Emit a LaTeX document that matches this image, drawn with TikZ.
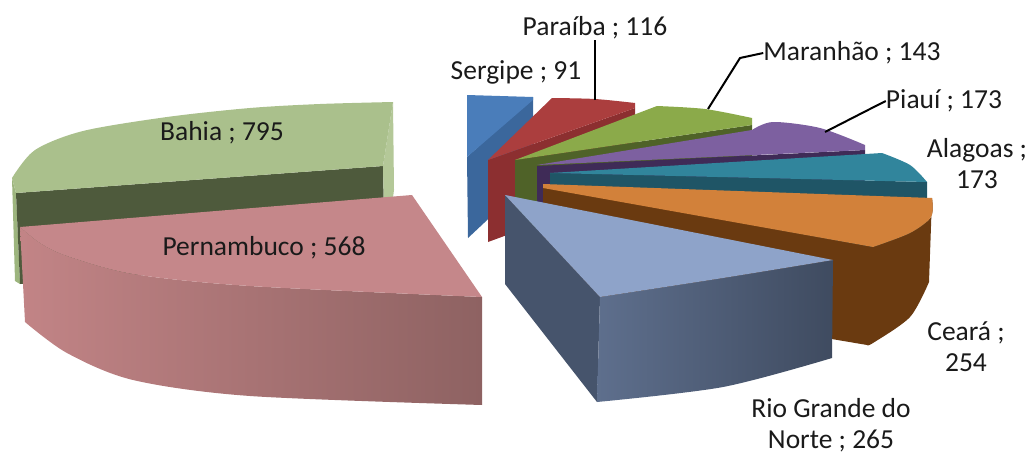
\documentclass[tikz,border=0pt]{standalone}
\usepackage{fontspec}
\setmainfont{Carlito}
\definecolor{bahtop}{HTML}{AAC08C}
\definecolor{bahside}{HTML}{9DB57E}
\definecolor{bahface}{HTML}{4E5A3C}
\definecolor{bahzero}{HTML}{B4C898}
\definecolor{pertop}{HTML}{C5878A}
\definecolor{perl}{HTML}{C28486}
\definecolor{perr}{HTML}{8E6262}
\definecolor{sertop}{HTML}{4A7DBA}
\definecolor{serface}{HTML}{3B679C}
\definecolor{partop}{HTML}{AB3E3E}
\definecolor{parface}{HTML}{8C2F30}
\definecolor{martop}{HTML}{8BAA4A}
\definecolor{marface}{HTML}{4F6228}
\definecolor{pittop}{HTML}{7D60A0}
\definecolor{pitface}{HTML}{3F2B57}
\definecolor{alatop}{HTML}{31859C}
\definecolor{alaface}{HTML}{1F5566}
\definecolor{certop}{HTML}{D2813A}
\definecolor{cerface}{HTML}{6A3A10}
\definecolor{rgntop}{HTML}{8EA3C9}
\definecolor{rgnface}{HTML}{46546C}
\definecolor{rgnl}{HTML}{5E6F8D}
\definecolor{rgnr}{HTML}{3F4B60}
\definecolor{txt}{HTML}{1A1A1A}
\tikzset{
  lbl/.style={text=txt, font=\fontsize{27.5}{31}\selectfont, inner sep=0pt, align=center},
  leader/.style={draw=black, line width=2pt}
}
\begin{document}
\begin{tikzpicture}[x=1pt,y=-1pt]
\useasboundingbox (0,0) rectangle (1032,455);
% ---------- Bahia ----------
\fill[bahside] (12,178) -- (16,193) -- (20,284) -- (15,281) -- cycle;
\fill[bahface] (16,193) -- (383,166) -- (385,258) -- (20,284) -- cycle;
\fill[bahzero] (383,166) -- (393,102) -- (394,190) -- (385,258) -- cycle;
\fill[bahtop] (383,166) -- (393,102) -- plot[smooth] coordinates {(393,102) (320,104) (250,108) (167,117) (83,131) (35,150) (12,178)} -- (16,193) -- cycle;
% ---------- Pernambuco ----------
\shade[left color=perl, right color=perr] plot[smooth] coordinates {(20,227) (40,243) (67,256) (133,274) (250,286) (482,297)} -- (482,405) -- plot[smooth] coordinates {(482,405) (250,396) (133,380) (67,353) (25,322)} -- cycle;
\fill[pertop] (412,195) -- (482,297) -- plot[smooth] coordinates {(482,297) (250,286) (133,274) (67,256) (40,243) (20,227)} -- cycle;
% ---------- Sergipe ----------
\fill[serface] (467,157) -- (533,97) -- (533,177) -- (468,238) -- cycle;
\fill[sertop] (467,157) -- (467,95) -- (533,97) -- (533,100) -- cycle;
% ---------- Paraiba ----------
\fill[parface] (488,160) -- (635,108) -- (635,188) -- (488,242) -- cycle;
\fill[partop] (488,160) -- (552,98) -- plot[smooth] coordinates {(552,98) (595,99) (635,103)} -- (635,108) -- cycle;
% ---------- Maranhao ----------
\fill[marface] (515,160) -- (752,125) -- (752,205) -- (515,240) -- cycle;
\fill[martop] (515,160) -- (657,106) -- plot[smooth] coordinates {(657,106) (705,109) (752,118)} -- (752,125) -- cycle;
% ---------- Piaui ----------
\fill[pitface] (537,166) -- (865,150) -- (865,228) -- (537,245) -- cycle;
\fill[pittop] (537,165) -- (752,130) -- plot[smooth] coordinates {(752,130) (773,122) (820,128) (865,145)} -- (865,150) -- cycle;
% ---------- Alagoas ----------
\fill[alaface] (550,173) -- (927,182) -- (927,258) -- (550,250) -- cycle;
\fill[alatop] (550,173) -- (882,153) -- plot[smooth] coordinates {(882,153) (910,165) (927,182)} -- cycle;
% ---------- Ceara ----------
\fill[cerface] (543,187) -- (873,247) -- plot[smooth] coordinates {(873,247) (910,233) (931,217) (932,198)} -- plot[smooth] coordinates {(929,282) (910,317) (873,343) (867,345)} -- (543,290) -- cycle;
\fill[certop] (543,184) -- (932,198) -- plot[smooth] coordinates {(932,198) (931,217) (910,233) (873,247)} -- (543,188) -- cycle;
% ---------- Rio Grande do Norte ----------
\fill[rgnface] (505,195) -- (600,297) -- (597,402) -- (505,284) -- cycle;
\shade[left color=rgnl, right color=rgnr] plot[smooth] coordinates {(600,297) (723,278) (833,260)} -- (832,358) -- plot[smooth] coordinates {(832,358) (723,387) (597,402)} -- cycle;
\fill[rgntop] (505,195) -- (833,260) -- plot[smooth] coordinates {(833,260) (723,278) (600,297)} -- cycle;
% ---------- labels ----------
\node[lbl] (bah) at (222,133) {Bahia ; 795};
\node[lbl] (per) at (264,248) {Pernambuco ; 568};
\node[lbl] (ser) at (516,72) {Sergipe ; 91};
\node[lbl] (par) at (595,28) {Paraíba ; 116};
\node[lbl] (mar) at (852,53) {Maranhão ; 143};
\node[lbl] (pia) at (944,101) {Piauí ; 173};
\node[lbl] (ala) at (977,164) {Alagoas ;\\173};
\node[lbl] (cea) at (966,347) {Ceará ;\\254};
\node[lbl] (rgn) at (831,425) {Rio Grande do\\Norte ; 265};
% ---------- leaders ----------
\coordinate (parpt) at (595,100);
\coordinate (marpt) at (708,109);
\coordinate (marbend) at (740,58);
\coordinate (piapt) at (825,132);
\coordinate (piabend) at (868,110);
\draw[leader] (parpt) -- (par.south);
\draw[leader] (marpt) -- (marbend) -- (mar.west);
\draw[leader] (piapt) -- (piabend) -- (pia.west);
\end{tikzpicture}
\end{document}
